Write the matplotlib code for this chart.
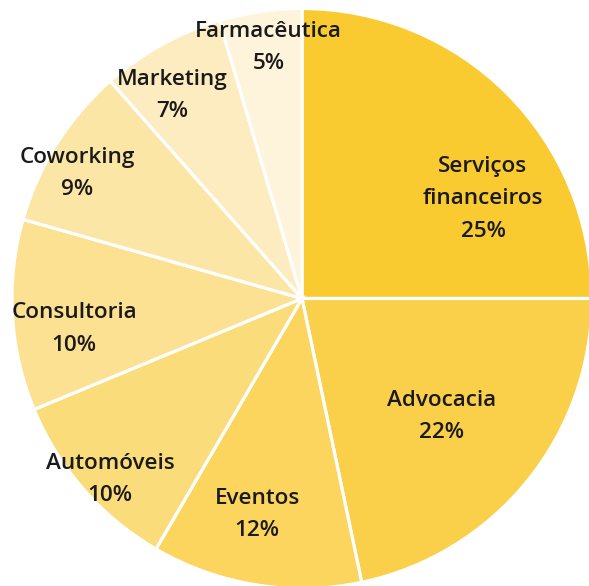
import matplotlib.pyplot as plt
import numpy as np

# Data
categories = ['Serviços\nfinanceiros', 'Advocacia', 'Eventos', 'Automóveis',
              'Consultoria', 'Coworking', 'Marketing', 'Farmacêutica']
shares = [25.0, 21.7, 11.7, 10.35, 10.65, 9.1, 6.9, 4.6]   # slice sizes
share_labels = [25, 22, 12, 10, 10, 9, 7, 5]                # percentages as printed
colors = ['#F9CB31', '#FACF4A', '#FBD55D', '#FBDC7A',
          '#FCE192', '#FCE6A6', '#FDECBF', '#FEF4DC']

# label placement (radius as fraction of pie radius, angle nudge in degrees)
label_r = [0.717, 0.626, 0.752, 0.904, 0.792, 0.892, 0.839, 0.882]
label_da = [-15.5, -0.5, -2.7, 1.8, 3.6, 2.7, 3.3, -0.7]

fig = plt.figure(figsize=(5.89, 5.86), dpi=100)
ax = fig.add_axes([0, 0, 1, 1])

wedges, _ = ax.pie(shares, colors=colors, startangle=90, counterclock=False,
                   radius=1, wedgeprops=dict(edgecolor='white', linewidth=2.3))

for w, cat, val, r, da in zip(wedges, categories, share_labels, label_r, label_da):
    mid = np.deg2rad((w.theta1 + w.theta2) / 2 + da)
    # small downward nudge so the text block sits like the original
    ax.text(r * np.cos(mid), r * np.sin(mid) - 0.009, f'{cat}\n{val}%',
            ha='center', va='center', fontsize=16.2, fontweight='semibold',
            family='Open Sans', color='#1a1a1a', linespacing=1.72)

ax.set_xlim(-302 / 290, 287 / 290)
ax.set_ylim(-287.5 / 290, 298.5 / 290)
ax.set_aspect('auto')
ax.axis('off')

fig.savefig('out.png', dpi=100)
